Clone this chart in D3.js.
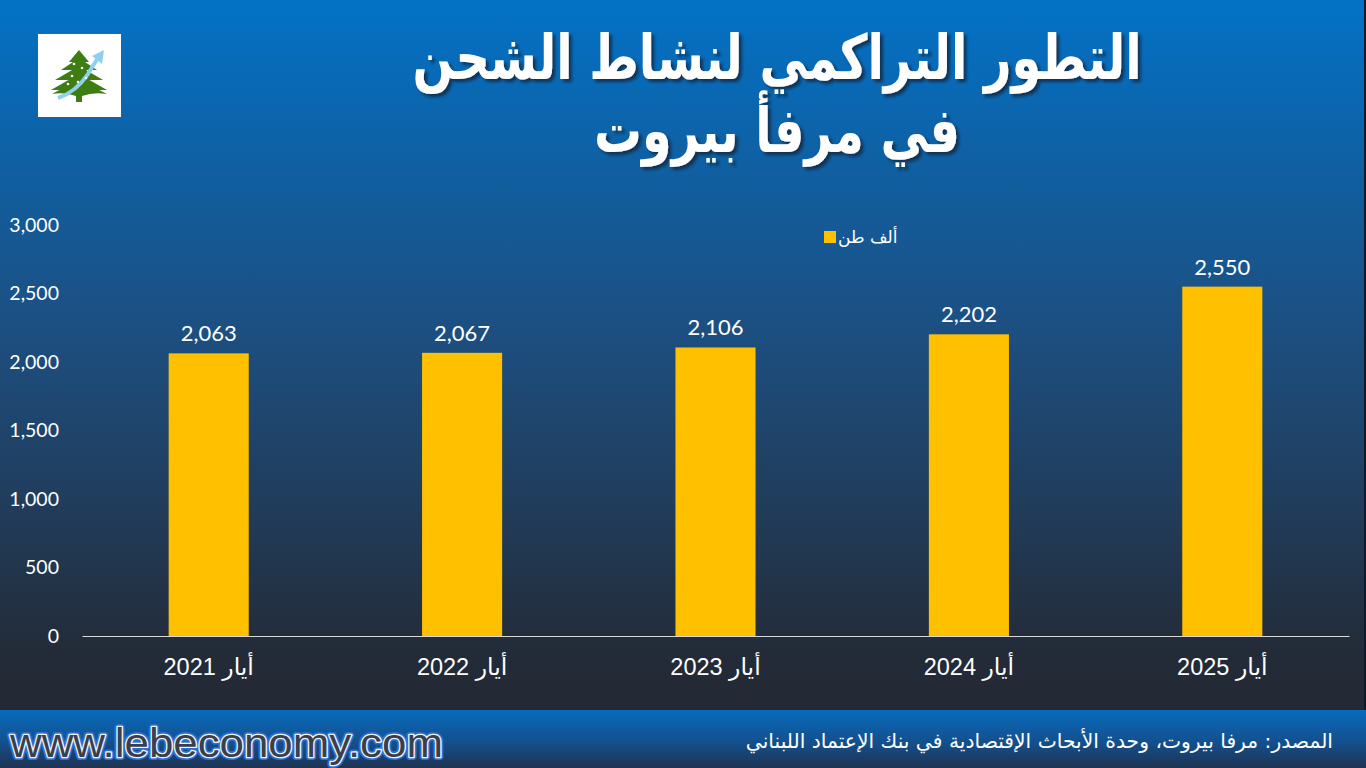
<!DOCTYPE html>
<html>
<head>
<meta charset="utf-8">
<script src="https://cdn.jsdelivr.net/npm/d3@7"></script>
<style>
  html, body { margin: 0; padding: 0; background: #232a35; overflow: hidden; }
  svg { display: block; }
</style>
</head>
<body>
<script>
// data
var months = ["أيار 2021", "أيار 2022", "أيار 2023", "أيار 2024", "أيار 2025"];
var tons = [2063, 2067, 2106, 2202, 2550];
var yTicks = [0, 500, 1000, 1500, 2000, 2500, 3000];
var seriesName = "ألف طن";
var titleLines = ["التطور التراكمي لنشاط الشحن", "في مرفأ بيروت"];
var sourceNote = "المصدر: مرفا بيروت، وحدة الأبحاث الإقتصادية في بنك الإعتماد اللبناني";
var site = "www.lebeconomy.com";

var W = 1366, H = 768;
var arabic = "'DejaVu Sans', 'Liberation Sans', sans-serif";
var nums = "Lato, 'Open Sans', sans-serif";

var svg = d3.select("body").append("svg")
  .attr("width", W)
  .attr("height", H);

var defs = svg.append("defs");

var bg = defs.append("linearGradient").attr("id", "bg")
  .attr("x1", 0).attr("y1", 0).attr("x2", 0).attr("y2", 1);
bg.append("stop").attr("offset", "0").attr("stop-color", "#0372c6");
bg.append("stop").attr("offset", "0.28").attr("stop-color", "#125c9b");
bg.append("stop").attr("offset", "0.45").attr("stop-color", "#1c5083");
bg.append("stop").attr("offset", "0.72").attr("stop-color", "#213c5a");
bg.append("stop").attr("offset", "0.92").attr("stop-color", "#232b38");
bg.append("stop").attr("offset", "1").attr("stop-color", "#232a35");

var foot = defs.append("linearGradient").attr("id", "foot")
  .attr("x1", 0).attr("y1", 0).attr("x2", 0).attr("y2", 1);
foot.append("stop").attr("offset", "0").attr("stop-color", "#086bbd");
foot.append("stop").attr("offset", "0.55").attr("stop-color", "#13508e");
foot.append("stop").attr("offset", "1").attr("stop-color", "#1f3352");

var shadow = defs.append("filter").attr("id", "shadow")
  .attr("x", "-5%").attr("y", "-10%").attr("width", "115%").attr("height", "130%");
shadow.append("feDropShadow")
  .attr("dx", 3).attr("dy", 3).attr("stdDeviation", 1.5)
  .attr("flood-color", "#0b2540").attr("flood-opacity", 0.8);

svg.append("rect")
  .attr("width", W).attr("height", 710)
  .attr("fill", "url(#bg)");

svg.append("rect")
  .attr("y", 710).attr("width", W).attr("height", H - 710)
  .attr("fill", "url(#foot)");

svg.append("rect")
  .attr("x", W - 2).attr("width", 2).attr("height", 710)
  .attr("fill", "#0d1a2a");

// logo box
var logo = svg.append("g").attr("transform", "translate(38,34)");
logo.append("rect").attr("width", 83).attr("height", 83).attr("fill", "#ffffff");
var tree = logo.append("g").attr("fill", "#3d7d12");
[[41, 16, 10, 28], [41, 24, 18, 36], [41, 32, 24, 46], [41, 40, 28, 56]].forEach(function(t) {
  tree.append("path")
    .attr("d", "M" + t[0] + "," + t[1] + " L" + (t[0] - t[2]) + "," + t[3] + " L" + (t[0] + t[2]) + "," + t[3] + " Z");
});
tree.append("path").attr("d", "M14,60 Q30,50 41,52 Q52,50 69,60 Q55,58 44,62 L44,68 L38,68 L38,62 Q27,58 14,60 Z");
logo.append("path")
  .attr("d", "M20,64 Q38,58 50,40 Q56,30 60,24")
  .attr("fill", "none").attr("stroke", "#8fd0f0").attr("stroke-width", 4);
logo.append("path")
  .attr("d", "M54,22 L66,16 L64,30 Z")
  .attr("fill", "#8fd0f0");
logo.selectAll("circle.dot")
  .data([[36, 30], [44, 34], [34, 42], [48, 44], [30, 50], [40, 48]])
  .enter().append("circle")
  .attr("cx", function(d) { return d[0]; })
  .attr("cy", function(d) { return d[1]; })
  .attr("r", 1.3)
  .attr("fill", "#ffffff");

// title: one text, two lines (DejaVu is wide, so squeeze it horizontally)
var title = svg.append("g").attr("filter", "url(#shadow)")
  .append("g").attr("transform", "translate(777,0) scale(0.77,1)")
  .append("text")
  .attr("text-anchor", "middle")
  .attr("direction", "rtl")
  .attr("fill", "#ffffff")
  .style("font-family", arabic)
  .style("font-weight", "bold")
  .style("font-size", "62px");
title.selectAll("tspan")
  .data(titleLines)
  .enter().append("tspan")
  .attr("x", 0)
  .attr("y", function(d, i) { return 79 + i * 73; })
  .text(function(d) { return d; });

// chart
var margin = { left: 82, right: 1349, top: 225, bottom: 636 };

var x = d3.scaleBand()
  .domain(months)
  .range([margin.left, margin.right])
  .paddingInner(0.684)
  .paddingOuter(0.342);

var y = d3.scaleLinear()
  .domain([0, 3000])
  .range([margin.bottom, margin.top]);

var yAxis = svg.append("g")
  .attr("transform", "translate(" + (margin.left - 20) + ",0)")
  .call(d3.axisLeft(y).tickValues(yTicks).tickSize(0).tickFormat(d3.format(",")));
yAxis.select(".domain").remove();
yAxis.selectAll("text")
  .attr("fill", "#ffffff")
  .style("font-family", nums)
  .style("font-size", "19.5px");

svg.selectAll("rect.bar")
  .data(tons)
  .enter().append("rect")
  .attr("class", "bar")
  .attr("x", function(d, i) { return x(months[i]); })
  .attr("y", function(d) { return y(d); })
  .attr("width", x.bandwidth())
  .attr("height", function(d) { return y(0) - y(d); })
  .attr("fill", "#ffc000");

svg.selectAll("text.val")
  .data(tons)
  .enter().append("text")
  .attr("class", "val")
  .attr("x", function(d, i) { return x(months[i]) + x.bandwidth() / 2; })
  .attr("y", function(d) { return y(d) - 12; })
  .attr("text-anchor", "middle")
  .attr("fill", "#ffffff")
  .style("font-family", nums)
  .style("font-size", "22px")
  .text(d3.format(","));

var xAxis = svg.append("g")
  .attr("transform", "translate(0," + margin.bottom + ")")
  .call(d3.axisBottom(x).tickSize(0).tickPadding(22));
xAxis.select(".domain").attr("stroke", "#d9d9d9").attr("stroke-width", 1.2);
xAxis.selectAll("text")
  .attr("direction", "rtl")
  .attr("fill", "#ffffff")
  .style("font-family", "'Liberation Sans', " + arabic)
  .style("font-size", "23.5px");

// legend
var legend = svg.append("g").attr("transform", "translate(824,231)");
legend.append("rect").attr("width", 12).attr("height", 12).attr("fill", "#ffc000");
legend.append("text")
  .attr("x", 14).attr("y", 12)
  .attr("fill", "#ffffff")
  .style("font-family", arabic)
  .style("font-size", "17px")
  .text(seriesName);

// footer site name: blue halo, white rim, dark core
var siteFont = "'Liberation Sans', sans-serif";
var siteG = svg.append("g").attr("transform", "translate(10,757) scale(1.07,1)");
siteG.append("text")
  .attr("fill", "#2b6fd0")
  .attr("stroke", "#2b6fd0")
  .attr("stroke-width", 6)
  .attr("stroke-linejoin", "round")
  .style("font-family", siteFont)
  .style("font-size", "41px")
  .text(site);
siteG.append("text")
  .attr("fill", "#3a3f4c")
  .attr("stroke", "#f2f4f8")
  .attr("stroke-width", 2.6)
  .attr("stroke-linejoin", "round")
  .style("paint-order", "stroke")
  .style("font-family", siteFont)
  .style("font-size", "41px")
  .text(site);

svg.append("text")
  .attr("x", 1333).attr("y", 748)
  .attr("text-anchor", "start")
  .attr("direction", "rtl")
  .attr("fill", "#ffffff")
  .style("font-family", arabic)
  .style("font-size", "20.3px")
  .text(sourceNote);
</script>
</body>
</html>
